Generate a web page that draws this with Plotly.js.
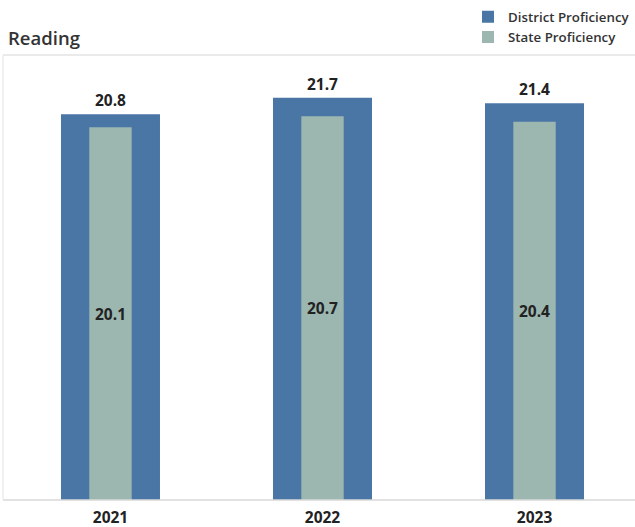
<!DOCTYPE html>
<html>
<head>
<meta charset="utf-8">
<script src="https://cdn.plot.ly/plotly-3.0.1.min.js"></script>
<style>html,body{margin:0;padding:0;background:#fff;}#chart{width:635px;height:527px;}</style>
</head>
<body>
<div id="chart"></div>
<script>
const years = ["2021", "2022", "2023"];
const districtValues = [20.8, 21.7, 21.4];
const stateValues = [20.1, 20.7, 20.4];
const seriesNames = ["District Proficiency", "State Proficiency"];

const FONT = "Open Sans, DejaVu Sans, sans-serif";

const traces = [
  {
    type: "bar",
    name: seriesNames[0],
    x: years,
    y: districtValues,
    width: 0.467,
    marker: {color: "#4a76a6"},
    text: districtValues.map(v => v.toFixed(1)),
    textposition: "outside",
    textfont: {family: FONT, size: 15.5, color: "#222", weight: 700},
    cliponaxis: false,
    hoverinfo: "skip"
  },
  {
    type: "bar",
    name: seriesNames[1],
    x: years,
    y: stateValues,
    width: 0.2,
    marker: {color: "#9cb6b0"},
    text: stateValues.map(v => v.toFixed(1)),
    textposition: "inside",
    insidetextanchor: "middle",
    constraintext: "none",
    textfont: {family: FONT, size: 15.5, color: "#222", weight: 700},
    hoverinfo: "skip"
  }
];

const layout = {
  width: 635,
  height: 527,
  margin: {l: 3, r: 0, t: 55, b: 27},
  paper_bgcolor: "#fff",
  plot_bgcolor: "#fff",
  barmode: "overlay",
  showlegend: true,
  title: {
    text: "Reading",
    font: {family: FONT, size: 18.5, color: "#333", weight: 600},
    x: 0, xref: "paper", xanchor: "left",
    y: 1, yref: "container", yanchor: "top",
    pad: {t: 32, l: 5}
  },
  legend: {
    x: 1, xanchor: "right", xref: "paper",
    y: 0.997, yanchor: "top", yref: "container",
    font: {family: FONT, size: 13.3, color: "#333", weight: 600},
    bgcolor: "rgba(0,0,0,0)",
    traceorder: "normal",
    itemwidth: 30,
    tracegroupgap: 0
  },
  xaxis: {
    type: "category",
    range: [-0.507, 2.474],
    showgrid: false,
    zeroline: false,
    showline: false,
    ticks: "",
    ticklabelstandoff: 6,
    tickfont: {family: FONT, size: 15.5, color: "#222", weight: 700},
    fixedrange: true
  },
  yaxis: {
    range: [0, 24],
    showgrid: false,
    zeroline: false,
    showline: false,
    showticklabels: false,
    ticks: "",
    fixedrange: true
  },
  shapes: [
    {type: "line", xref: "paper", yref: "paper", x0: 0, x1: 1, y0: 1, y1: 1, line: {color: "#e3e3e3", width: 1.5}},
    {type: "line", xref: "paper", yref: "paper", x0: 0, x1: 1, y0: 0, y1: 0, line: {color: "#d9d9d9", width: 1.5}},
    {type: "line", xref: "paper", yref: "paper", x0: 0, x1: 0, y0: 0, y1: 1, line: {color: "#ececec", width: 1.5}}
  ]
};

Plotly.newPlot("chart", traces, layout, {displayModeBar: false, staticPlot: true});
</script>
</body>
</html>
